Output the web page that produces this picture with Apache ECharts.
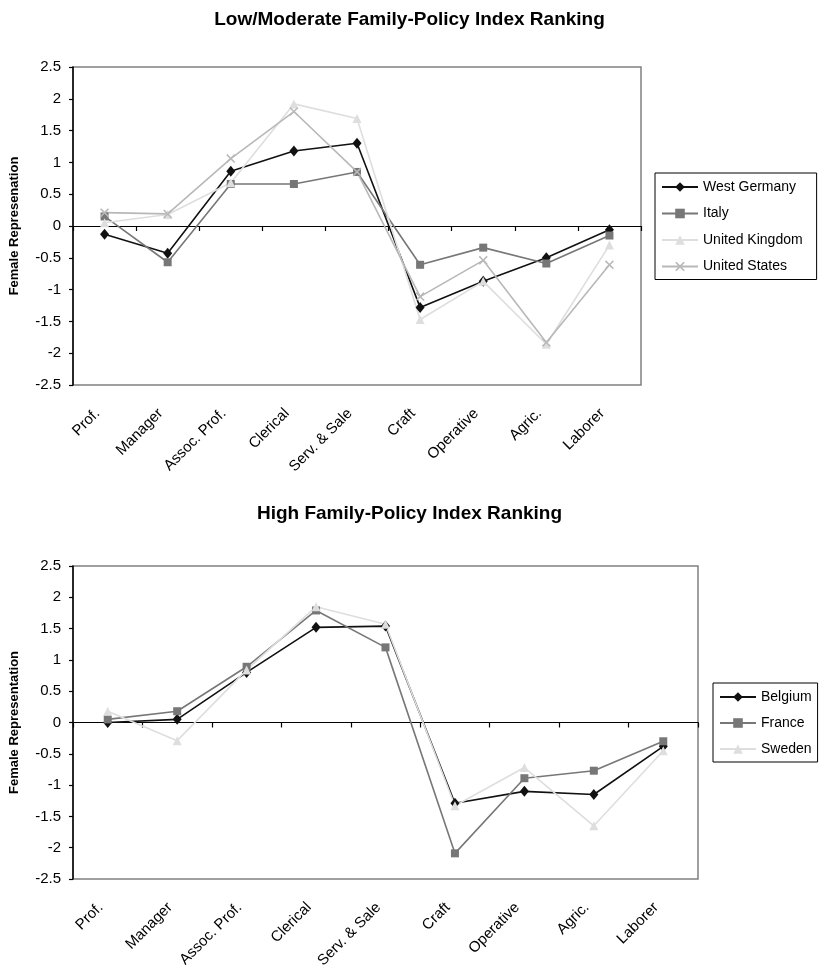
<!DOCTYPE html>
<html>
<head>
<meta charset="utf-8">
<script src="https://cdn.jsdelivr.net/npm/echarts@6/dist/echarts.min.js"></script>
<style>
html,body{margin:0;padding:0;background:#fff;}
#c{width:819px;height:972px;}
</style>
</head>
<body>
<div id="c"></div>
<script>
const categories = ['Prof.', 'Manager', 'Assoc. Prof.', 'Clerical', 'Serv. & Sale', 'Craft', 'Operative', 'Agric.', 'Laborer'];

const westGermany = [-0.13, -0.43, 0.86, 1.18, 1.30, -1.28, -0.87, -0.50, -0.06];
const italy       = [0.15, -0.57, 0.66, 0.66, 0.85, -0.61, -0.34, -0.59, -0.15];
const unitedKingdom = [0.05, 0.18, 0.68, 1.92, 1.69, -1.47, -0.87, -1.86, -0.30];
const unitedStates  = [0.21, 0.19, 1.06, 1.80, 0.85, -1.11, -0.54, -1.83, -0.61];

const belgium = [0.00, 0.05, 0.80, 1.52, 1.54, -1.29, -1.10, -1.15, -0.38];
const france  = [0.05, 0.18, 0.89, 1.79, 1.20, -2.09, -0.89, -0.77, -0.30];
const sweden  = [0.18, -0.29, 0.84, 1.85, 1.57, -1.33, -0.72, -1.65, -0.45];

const titleTop = 'Low/Moderate Family-Policy Index Ranking';
const titleBottom = 'High Family-Policy Index Ranking';
const yNameTop = 'Female Represenation';
const yNameBottom = 'Female Representation';

const FONT = 'Liberation Sans, Arial, sans-serif';
const xSym = 'path://M0,1.2L1.2,0L5,3.8L8.8,0L10,1.2L6.2,5L10,8.8L8.8,10L5,6.2L1.2,10L0,8.8L3.8,5Z';

function lineSeries(name, data, color, symbol, size, gi) {
  return {
    name: name, type: 'line', data: data,
    xAxisIndex: gi * 2, yAxisIndex: gi,
    symbol: symbol, symbolSize: size,
    lineStyle: {color: color, width: 1.6},
    itemStyle: {color: color},
    emphasis: {disabled: true},
    animation: false
  };
}

function xAxes(gi) {
  return [
    {
      type: 'category', data: categories, gridIndex: gi, position: 'bottom',
      boundaryGap: true,
      axisLine: {show: false, onZero: false},
      axisTick: {show: false},
      axisLabel: {rotate: 45, fontSize: 15, color: '#000', fontFamily: FONT, margin: 19, interval: 0, padding: [0, 10, 0, 0]},
      splitLine: {show: false}
    },
    {
      type: 'category', data: categories, gridIndex: gi, position: 'top',
      boundaryGap: true,
      axisLine: {show: true, onZero: true, lineStyle: {color: '#000', width: 1.2}},
      axisTick: {show: true, inside: true, length: 5, interval: 0, lineStyle: {color: '#000', width: 1.2}},
      axisLabel: {show: false},
      splitLine: {show: false}
    }
  ];
}

function yAxis(gi, name) {
  return {
    type: 'value', gridIndex: gi, min: -2.5, max: 2.5, interval: 0.5,
    name: name, nameLocation: 'middle', nameGap: 52, nameRotate: 90,
    nameTextStyle: {fontSize: 13, fontWeight: 'bold', color: '#000', fontFamily: FONT},
    axisLine: {show: true, onZero: false, lineStyle: {color: '#000', width: 1.5}},
    axisTick: {show: true, length: 4, lineStyle: {color: '#000', width: 1.2}},
    axisLabel: {fontSize: 15, color: '#000', fontFamily: FONT, margin: 12},
    splitLine: {show: false}
  };
}

function legend(names, left, top, padRight, gap) {
  return {
    data: names,
    orient: 'vertical', left: left, top: top,
    itemWidth: 36, itemHeight: 12, itemGap: gap,
    padding: [7, padRight, 6, 6],
    borderColor: '#000', borderWidth: 1, backgroundColor: '#fff',
    textStyle: {fontSize: 14, color: '#000', fontFamily: FONT},
    selectedMode: false
  };
}

const chart = echarts.init(document.getElementById('c'), null, {renderer: 'canvas'});
chart.setOption({
  backgroundColor: '#fff',
  animation: false,
  title: [
    {text: titleTop, left: 'center', top: 5, textStyle: {fontSize: 19, fontWeight: 'bold', color: '#000', fontFamily: FONT}},
    {text: titleBottom, left: 'center', top: 499, textStyle: {fontSize: 19, fontWeight: 'bold', color: '#000', fontFamily: FONT}}
  ],
  grid: [
    {left: 72, top: 67, width: 569, height: 318, show: true, borderColor: '#808080', borderWidth: 1.5, containLabel: false},
    {left: 72, top: 566, width: 626, height: 313, show: true, borderColor: '#808080', borderWidth: 1.5, containLabel: false}
  ],
  xAxis: xAxes(0).concat(xAxes(1)),
  yAxis: [yAxis(0, yNameTop), yAxis(1, yNameBottom)],
  legend: [
    legend(['West Germany', 'Italy', 'United Kingdom', 'United States'], 655, 173, 14, 12.5),
    legend(['Belgium', 'France', 'Sweden'], 713, 683, 6, 12)
  ],
  series: [
    lineSeries('West Germany', westGermany, '#111111', 'diamond', [9, 11], 0),
    lineSeries('Italy', italy, '#777777', 'rect', 8, 0),
    lineSeries('United Kingdom', unitedKingdom, '#dedede', 'triangle', 9, 0),
    lineSeries('United States', unitedStates, '#b8b8b8', xSym, 9, 0),
    lineSeries('Belgium', belgium, '#111111', 'diamond', [9, 11], 1),
    lineSeries('France', france, '#777777', 'rect', 8, 1),
    lineSeries('Sweden', sweden, '#dedede', 'triangle', 9, 1)
  ]
});
</script>
</body>
</html>
